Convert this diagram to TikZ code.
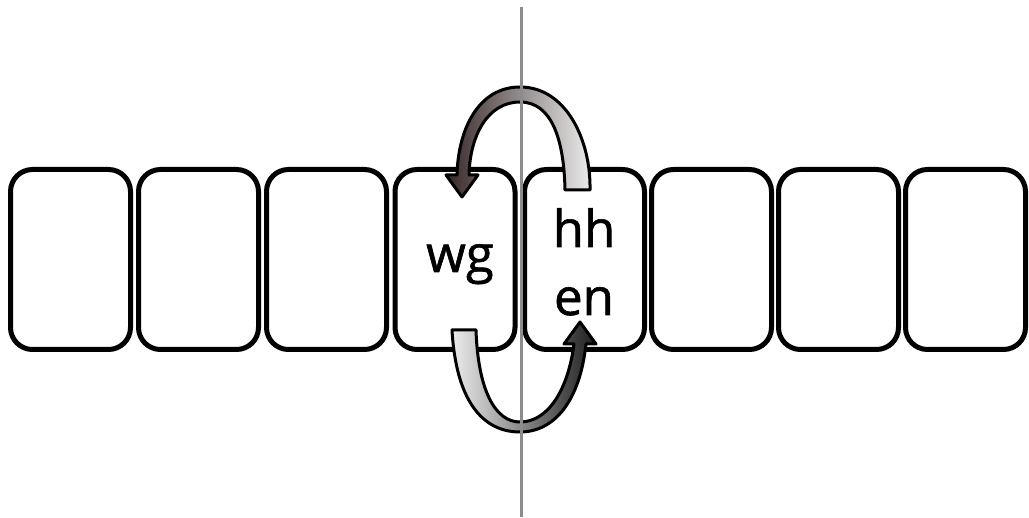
\documentclass[tikz,border=0pt]{standalone}
\usepackage{fontspec}
\setmainfont{Open Sans}
\newfontfamily\lblfont{Open Sans}[BoldFont={Open Sans}, BoldFeatures={FakeBold=1.2}]
\definecolor{darkbrown}{RGB}{56,40,40}
\definecolor{lightribbon}{RGB}{236,236,236}
\definecolor{darkribbon}{RGB}{30,30,30}
\begin{document}
\begin{tikzpicture}[x=1pt,y=-1pt,
  cell/.style={draw=black, line width=5pt, rounded corners=22pt, fill=white,
    minimum width=120pt, minimum height=180pt, inner sep=0pt, outer sep=0pt},
  lbl/.style={anchor=base, inner sep=0pt, font=\lblfont\bfseries\fontsize{51}{60}\selectfont},
  ribbon/.style={draw=black, line width=3pt, line join=round},
  divider/.style={draw=black!45, line width=3pt}
]
\useasboundingbox (0,0) rectangle (1029,518);
% cells
\node[cell] (b1) at (70.5,259.5) {};
\node[cell] (b2) at (198.5,259.5) {};
\node[cell] (b3) at (326.5,259.5) {};
\node[cell] (b4) at (455,259.5) {};
\node[cell] (b5) at (584.5,259.5) {};
\node[cell] (b6) at (711.5,259.5) {};
\node[cell] (b7) at (838.5,259.5) {};
\node[cell] (b8) at (965.5,259.5) {};
% labels
\node[lbl] (twg) at (460,272) {wg};
\node[lbl] (thh) at (584,247) {hh};
\node[lbl] (ten) at (584,315) {en};
% top arrow: from hh-cell to wg-cell
\shadedraw[ribbon, left color=darkbrown, right color=lightribbon]
  (565,190) -- (590,190)
  .. controls (591,140) and (566,87) .. (520,87)
  .. controls (478,87) and (458,130) .. (457,175)
  -- (446,175) -- (462,197) -- (478,175) -- (469,175)
  .. controls (470,135) and (488,102) .. (520,102)
  .. controls (552,102) and (564,140) .. (565,190) -- cycle;
% bottom arrow: from wg-cell to en
\shadedraw[ribbon, left color=lightribbon, right color=darkribbon]
  (452,330) -- (476,330)
  .. controls (478,390) and (495,422) .. (520,422)
  .. controls (548,422) and (568,390) .. (574,344)
  -- (564,344) -- (580,322) -- (596,344) -- (586,344)
  .. controls (580,400) and (555,432) .. (520,432)
  .. controls (482,432) and (456,400) .. (452,330) -- cycle;
% divider
\coordinate (dtop) at (521,7);
\coordinate (dbot) at (521,517);
\draw[divider] (dtop) -- (dbot);
\end{tikzpicture}
\end{document}
